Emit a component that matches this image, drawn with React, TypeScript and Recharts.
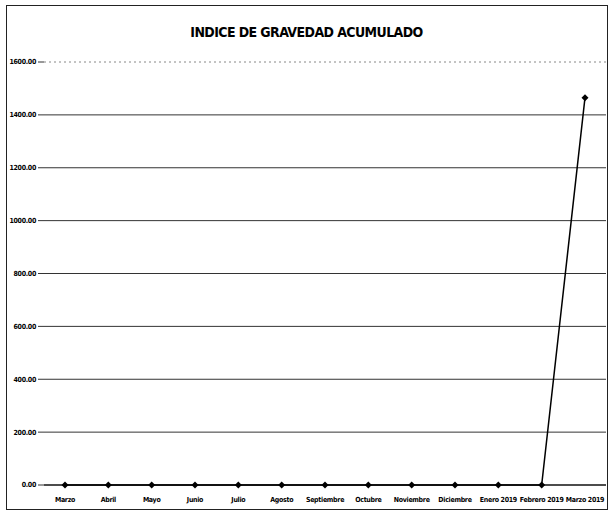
import { LineChart, Line, XAxis, YAxis, CartesianGrid, ReferenceLine } from 'recharts'

const months = [
  'Marzo', 'Abril', 'Mayo', 'Junio', 'Julio', 'Agosto', 'Septiembre',
  'Octubre', 'Noviembre', 'Diciembre', 'Enero 2019', 'Febrero 2019', 'Marzo 2019'
]
const indice = [0, 0, 0, 0, 0, 0, 0, 0, 0, 0, 0, 0, 1465]
const yTicks = [0, 200, 400, 600, 800, 1000, 1200, 1400, 1600]
const solidGrid = [200, 400, 600, 800, 1000, 1200, 1400]

const data = months.map((m, i) => ({ mes: m, valor: indice[i] }))

const font = '"DejaVu Sans Condensed", "Liberation Sans Narrow", sans-serif'

// diamond marker like the spreadsheet one
const Diamond = (props: any) => {
  const { cx, cy } = props
  if (cx == null || cy == null) return null
  const s = 3.5
  return (
    <polygon
      points={`${cx},${cy - s} ${cx + s},${cy} ${cx},${cy + s} ${cx - s},${cy}`}
      fill="#000"
    />
  )
}

export default function App() {
  return (
    <div style={{ position: 'absolute', left: 0, top: 0, width: 613, height: 517, background: '#fff' }}>
      <div style={{
        position: 'absolute', left: 6, top: 5, width: 602, height: 505,
        border: '1px solid #222', boxSizing: 'border-box'
      }} />
      <div style={{
        position: 'absolute', left: 0, top: 24, width: 613, textAlign: 'center',
        fontFamily: font, fontWeight: 'bold', fontSize: 14, letterSpacing: -0.6, color: '#000'
      }}>
        INDICE DE GRAVEDAD ACUMULADO
      </div>
      <div style={{ position: 'absolute', left: 0, top: 0 }}>
        <LineChart width={613} height={517} data={data} margin={{ top: 62, right: 7, bottom: 0, left: 0 }}>
          <CartesianGrid vertical={false} horizontalValues={solidGrid} stroke="#333" strokeWidth={1} />
          <XAxis
            dataKey="mes"
            axisLine={false}
            tickLine={false}
            height={32}
            interval={0}
            padding={{ left: 21, right: 21 }}
            tick={{ fontSize: 7, fill: '#000', fontFamily: font, fontWeight: 'bold', letterSpacing: -0.3 }}
            dy={4}
          />
          <YAxis
            domain={[0, 1600]}
            ticks={yTicks}
            width={44}
            axisLine={false}
            tickLine={{ stroke: '#333' }}
            tickSize={6}
            tickFormatter={(v: number) => v.toFixed(2)}
            tick={{ fontSize: 7, fill: '#000', fontFamily: font, fontWeight: 'bold', letterSpacing: -0.3 }}
          />
          {/* top line is dotted and pale in the reference */}
          <ReferenceLine y={1600} stroke="#888" strokeDasharray="2 3" />
          {/* baseline slightly heavier */}
          <ReferenceLine y={0} stroke="#111" strokeWidth={1.5} />
          <Line
            type="linear"
            dataKey="valor"
            stroke="#000"
            strokeWidth={1.5}
            dot={<Diamond />}
            activeDot={false}
            isAnimationActive={false}
          />
        </LineChart>
      </div>
    </div>
  )
}
